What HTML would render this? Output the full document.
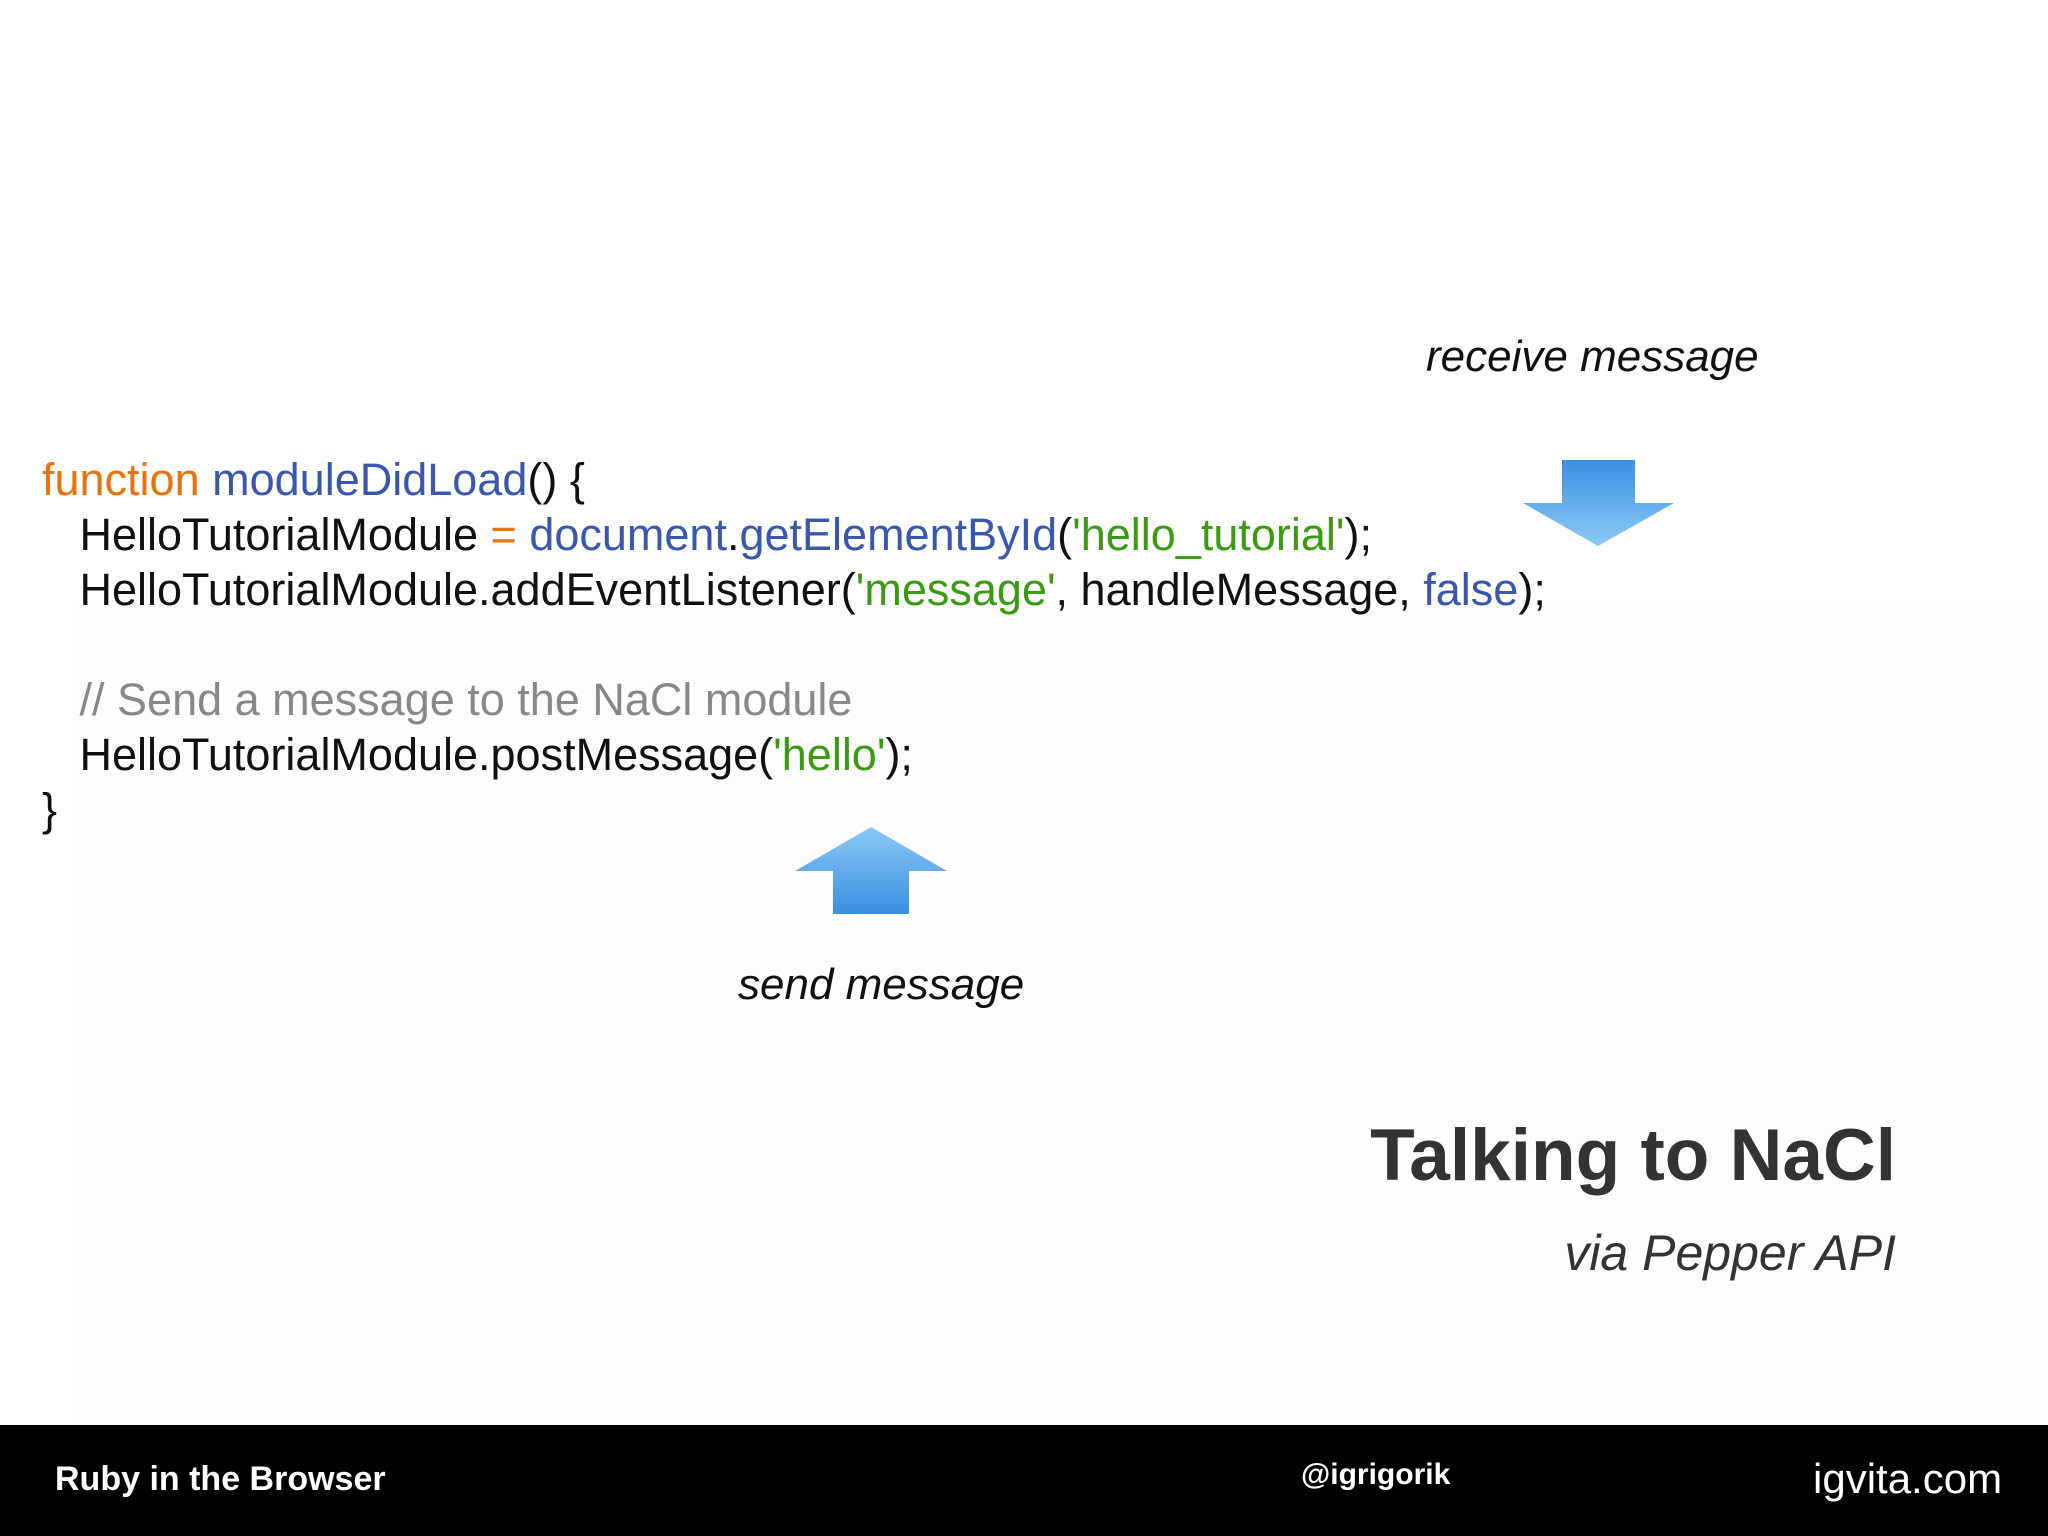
<!DOCTYPE html>
<html><head><meta charset="utf-8"><style>
html,body{margin:0;padding:0}
body{width:2048px;height:1536px;position:relative;background:#fff;overflow:hidden;font-family:"Liberation Sans",sans-serif}
.bg{position:absolute;left:78px;top:600px;width:1970px;height:825px;background:#fdfdfd}
.code{position:absolute;left:42px;font-size:45px;color:#111;white-space:pre;line-height:55px}
.o{color:#e8720c}.b{color:#3a57b0}.g{color:#3a9a10}.c{color:#888}
.it{position:absolute;font-style:italic;color:#111;white-space:nowrap}
.footer{position:absolute;left:0;top:1425px;width:2048px;height:111px;background:#000;color:#fff}
</style></head><body>
<div class="bg"></div>
<div class="it" style="left:1426px;top:332px;font-size:44px">receive message</div>
<div class="code" style="top:452px"><span class="o">function</span> <span class="b">moduleDidLoad</span>() {
   HelloTutorialModule <span class="o">=</span> <span class="b">document</span>.<span class="b">getElementById</span>(<span class="g">'hello_tutorial'</span>);
   HelloTutorialModule.addEventListener(<span class="g">'message'</span>, handleMessage, <span class="b">false</span>);

   <span class="c">// Send a message to the NaCl module</span>
   HelloTutorialModule.postMessage(<span class="g">'hello'</span>);
}</div>
<svg style="position:absolute;left:0;top:0" width="2048" height="1536">
<defs>
<linearGradient id="gd" x1="0" y1="0" x2="0" y2="1"><stop offset="0" stop-color="#3a8fe0"/><stop offset="1" stop-color="#8ccaf6"/></linearGradient>
<linearGradient id="gu" x1="0" y1="0" x2="0" y2="1"><stop offset="0" stop-color="#8ccaf6"/><stop offset="1" stop-color="#3a8fe0"/></linearGradient>
</defs>
<polygon points="1562,460 1635,460 1635,503 1674,503 1598,546 1523,503 1562,503" fill="url(#gd)"/>
<polygon points="871,827 947,871 909,871 909,914 833,914 833,871 795,871" fill="url(#gu)"/>
</svg>
<div class="it" style="left:738px;top:960px;font-size:44px">send message</div>
<div style="position:absolute;right:152px;top:1114px;font-size:73px;font-weight:bold;color:#333">Talking to NaCl</div>
<div class="it" style="right:152px;top:1224px;font-size:50px;color:#333">via Pepper API</div>
<div class="footer">
<div style="position:absolute;left:55px;top:35px;font-size:34px;font-weight:bold">Ruby in the Browser</div>
<div style="position:absolute;left:1301px;top:33px;font-size:30px;font-weight:bold">@igrigorik</div>
<div style="position:absolute;left:1813px;top:30px;font-size:42px">igvita.com</div>
</div>
</body></html>
